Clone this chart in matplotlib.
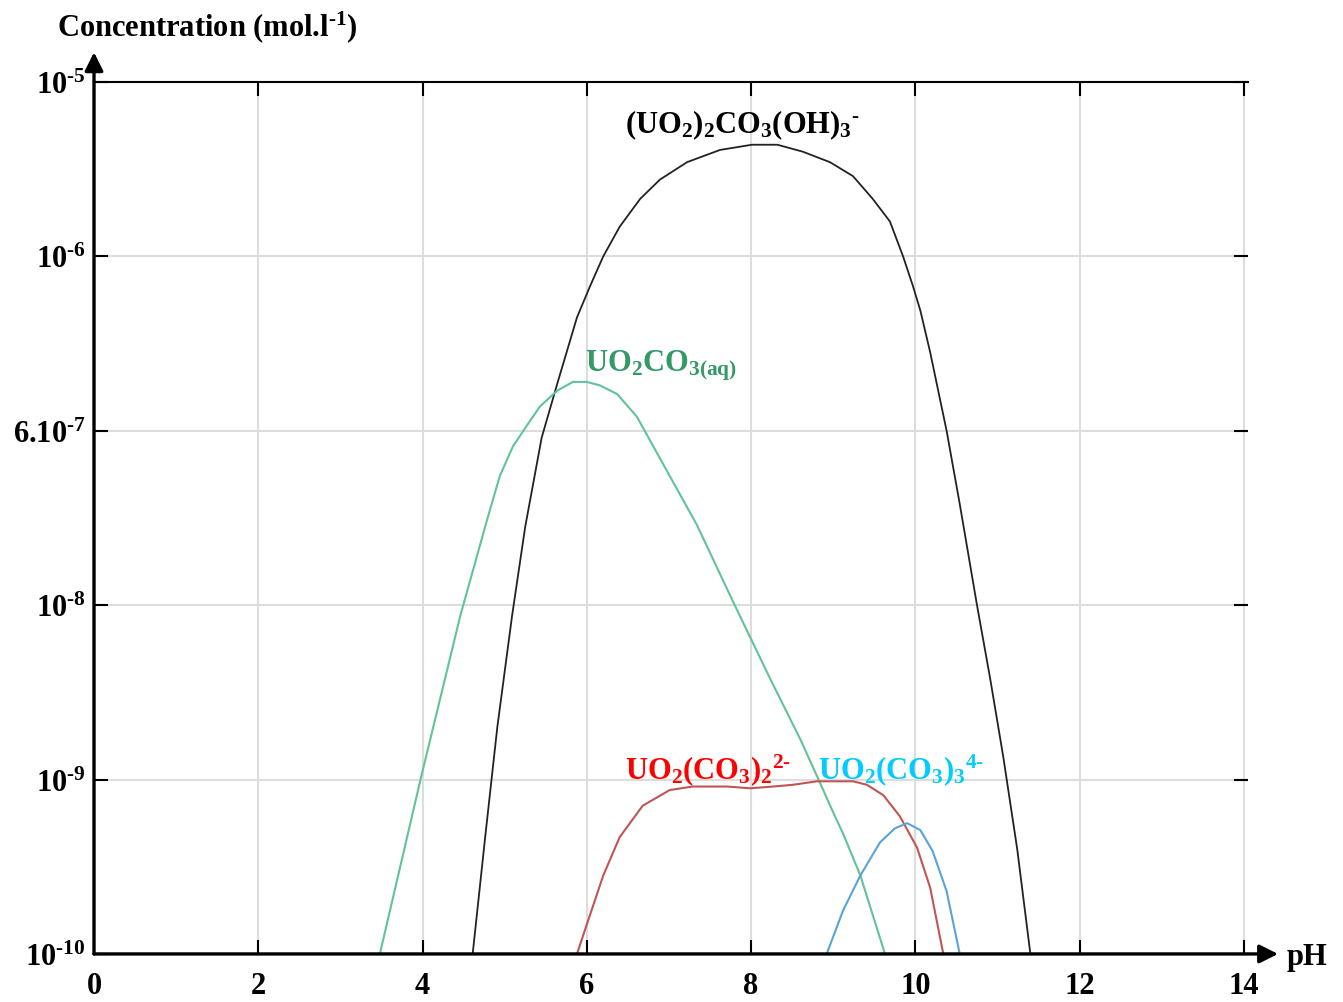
import numpy as np
import matplotlib.pyplot as plt

plt.rcParams['font.family'] = 'Liberation Serif'
plt.rcParams['font.weight'] = 'bold'
plt.rcParams['mathtext.fontset'] = 'custom'
plt.rcParams['mathtext.rm'] = 'Liberation Serif:bold'
plt.rcParams['mathtext.bf'] = 'Liberation Serif:bold'
plt.rcParams['mathtext.it'] = 'Liberation Serif:bold'
plt.rcParams['mathtext.default'] = 'rm'

HY = '\u2010'  # short hyphen for the charges / exponents

# y axis is drawn on an even scale of "levels": 0 = 1e-10 ... 5 = 1e-5
ylevels = [0, 1, 2, 3, 4, 5]
ylabels = ['10$^{%s10}$' % HY, '10$^{%s9}$' % HY, '10$^{%s8}$' % HY,
           '6.10$^{%s7}$' % HY, '10$^{%s6}$' % HY, '10$^{%s5}$' % HY]
xticks = [0, 2, 4, 6, 8, 10, 12, 14]

# (UO2)2CO3(OH)3-
ph_black = [4.61, 4.76, 4.91, 5.09, 5.25, 5.45, 5.64, 5.88, 6.04, 6.20, 6.40, 6.65,
            6.89, 7.22, 7.62, 8.01, 8.32, 8.63, 8.96, 9.24, 9.48, 9.69, 9.85, 9.97,
            10.06, 10.18, 10.38, 10.54, 10.75, 10.91, 11.07, 11.24, 11.40]
c_black = [0.0, 0.66, 1.30, 1.94, 2.45, 2.96, 3.27, 3.65, 3.83, 4.00, 4.17, 4.33,
           4.44, 4.54, 4.61, 4.64, 4.64, 4.60, 4.54, 4.46, 4.33, 4.20, 4.00, 3.83,
           3.69, 3.45, 3.00, 2.58, 2.00, 1.58, 1.13, 0.60, 0.0]

# UO2CO3(aq)
ph_green = [3.48, 3.98, 4.46, 4.78, 4.94, 5.10, 5.27, 5.43, 5.64, 5.83, 6.00, 6.16,
            6.37, 6.61, 6.81, 7.01, 7.34, 7.78, 8.23, 8.60, 8.84, 9.02, 9.12, 9.33,
            9.63]
c_green = [0.0, 1.01, 1.94, 2.48, 2.74, 2.91, 3.03, 3.14, 3.23, 3.28, 3.28, 3.26,
           3.21, 3.08, 2.91, 2.74, 2.46, 2.02, 1.58, 1.23, 0.98, 0.79, 0.69, 0.45,
           0.0]

# UO2(CO3)2 2-
ph_red = [5.88, 6.00, 6.20, 6.40, 6.68, 7.01, 7.29, 7.71, 7.99, 8.27, 8.51, 8.80,
          9.24, 9.41, 9.61, 9.81, 10.02, 10.18, 10.34]
c_red = [0.0, 0.17, 0.45, 0.67, 0.85, 0.94, 0.96, 0.96, 0.95, 0.96, 0.97, 0.99,
         0.99, 0.97, 0.91, 0.79, 0.61, 0.38, 0.0]

# UO2(CO3)3 4-
ph_blue = [8.92, 9.12, 9.33, 9.57, 9.75, 9.90, 10.06, 10.21, 10.38, 10.54]
c_blue = [0.0, 0.25, 0.45, 0.64, 0.72, 0.75, 0.71, 0.59, 0.36, 0.0]

fig = plt.figure(figsize=(13.43, 10.03), dpi=100)
ax = fig.add_axes([0.0700, 0.0479, 0.8593, 0.8694])

ax.plot(ph_black, c_black, color='#222222', lw=1.3)
ax.plot(ph_green, c_green, color='#62c298', lw=1.5)
ax.plot(ph_red, c_red, color='#c05555', lw=1.5)
ax.plot(ph_blue, c_blue, color='#5aa3d6', lw=1.5)

ax.set_xlim(0, 14.05)
ax.set_ylim(0, 5)
ax.set_xticks(xticks)
ax.set_xticklabels([str(t) for t in xticks])
ax.set_yticks(ylevels)
ax.set_yticklabels(ylabels)
ax.grid(True, color='#dddddd', lw=1.5)
ax.set_axisbelow(True)
ax.tick_params(direction='in', top=True, right=True, length=10, width=1.5,
               labelsize=22)
ax.tick_params(axis='x', pad=12)
ax.tick_params(axis='y', pad=6)

for s in ['bottom', 'left', 'right']:
    ax.spines[s].set_visible(False)
ax.spines['top'].set_linewidth(1.5)

# axis arrows
ax.annotate('', xy=(1.026, 0), xytext=(0, 0), xycoords='axes fraction',
            arrowprops=dict(arrowstyle='-|>', lw=2.4, color='black', mutation_scale=28,
                            shrinkA=0, shrinkB=0), annotation_clip=False)
ax.annotate('', xy=(0, 1.034), xytext=(0, 0), xycoords='axes fraction',
            arrowprops=dict(arrowstyle='-|>', lw=2.4, color='black', mutation_scale=28,
                            shrinkA=0, shrinkB=0), annotation_clip=False)

fig.text(0.0424, 0.973, 'Concentration (mol.l$^{%s1}$)' % HY, fontsize=22, va='center')
fig.text(0.958, 0.045, 'pH', fontsize=22, va='center')

ax.text(7.90, 4.76, '(UO$_2$)$_2$CO$_3$(OH)$_3$$^{%s}$' % HY, fontsize=22, ha='center',
        va='center', color='black')
ax.text(5.98, 3.38, 'UO$_2$CO$_{3(aq)}$', fontsize=22, va='center', color='#339966')
ax.text(6.46, 1.06, 'UO$_2$(CO$_3$)$_2$$^{2%s}$' % HY, fontsize=22, va='center',
        color='#ff0000')
ax.text(8.81, 1.06, 'UO$_2$(CO$_3$)$_3$$^{4%s}$' % HY, fontsize=22, va='center',
        color='#00ccff')

plt.savefig('out.png')
